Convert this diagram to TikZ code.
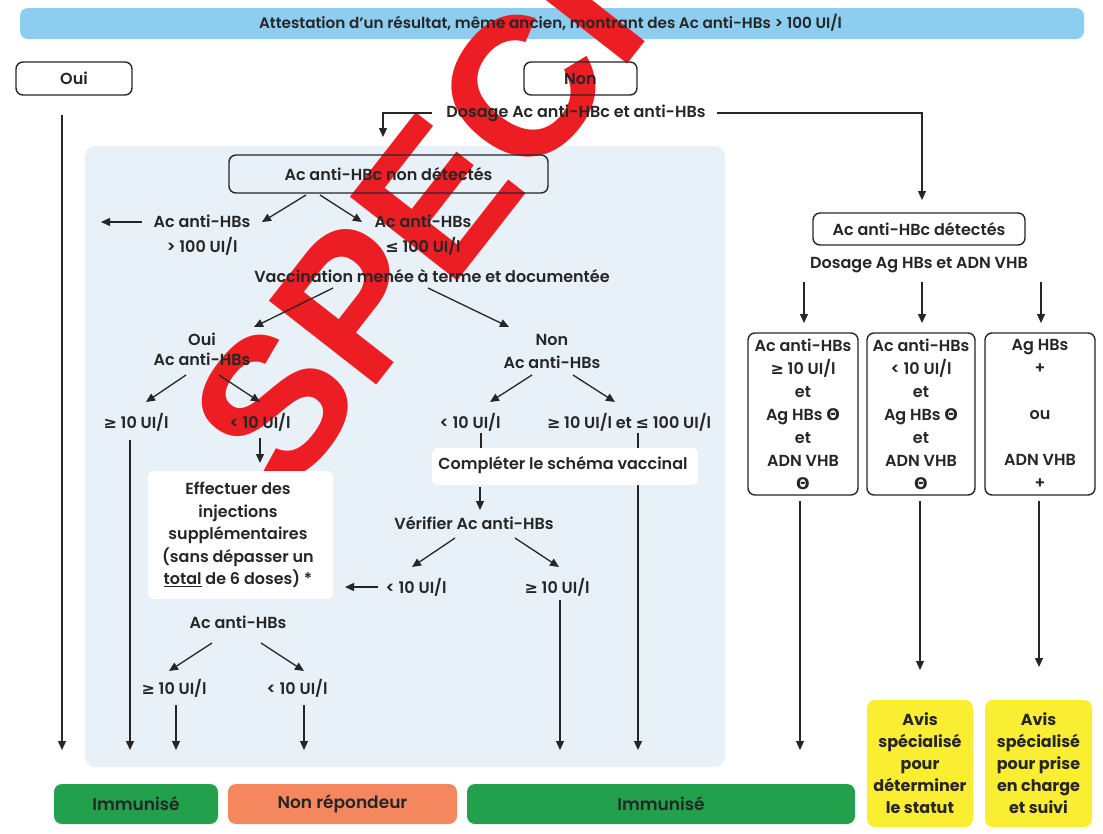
\documentclass[tikz,border=0pt]{standalone}
\usepackage{fontspec}
\setmainfont{Poppins}
\newfontfamily\bodyfont{Poppins}[UprightFont={* SemiBold}]
\newfontfamily\symfont{DejaVu Sans}
\newfontfamily\wmfont{Liberation Sans}
\usetikzlibrary{arrows.meta}
\pgfdeclarelayer{bg}
\pgfdeclarelayer{wm}
\pgfsetlayers{bg,wm,main}
\definecolor{ink}{HTML}{262626}
\definecolor{barblue}{HTML}{8CCDF0}
\definecolor{panelblue}{HTML}{E8F1F8}
\definecolor{okgreen}{HTML}{22A04B}
\definecolor{nrorange}{HTML}{F5875F}
\definecolor{avisyellow}{HTML}{FAEE32}
\definecolor{wmred}{HTML}{EC1E24}
\newcommand{\symGE}{{\symfont\bfseries ≥}}
\newcommand{\symLE}{{\symfont\bfseries ≤}}
\newcommand{\symTh}{{\symfont\bfseries Θ}}
\tikzset{
  txt/.style={font=\bodyfont\fontsize{16}{23}\selectfont, text=ink, inner sep=0pt, align=center},
  sp/.style={font=\bodyfont\fontsize{16}{#1}\selectfont},
  rbox/.style={draw=ink, line width=1.4pt, rounded corners=7pt},
  arr/.style={draw=ink, line width=1.3pt, -{Triangle[length=9pt,width=8pt]}},
  ln/.style={draw=ink, line width=1.3pt},
  whitebox/.style={fill=white, rounded corners=6pt},
  result/.style={rounded corners=8pt, minimum height=40pt, font=\bodyfont\fontsize{17}{20}\selectfont},
  avis/.style={fill=avisyellow, rounded corners=8pt, minimum height=127pt, font=\rmfamily\bfseries\fontsize{16}{22}\selectfont}
}
\begin{document}
\begin{tikzpicture}[x=1pt,y=-1pt, every node/.style={txt}]
\useasboundingbox (0,0) rectangle (1103,833);
\begin{pgfonlayer}{bg}
  \fill[white] (0,0) rectangle (1103,833);
  \node[fill=barblue, rounded corners=8pt, minimum width=1064pt, minimum height=31pt] (topbar) at (552,23.5) {};
  \node[fill=panelblue, rounded corners=10pt, minimum width=640pt, minimum height=621pt] (panel) at (405,456.5) {};
\end{pgfonlayer}
\begin{pgfonlayer}{wm}
  \node[font=\wmfont\bfseries\fontsize{198}{198}\selectfont, text=wmred, anchor=base west, rotate=52, inner sep=0pt] (wm) at (287,500) {SPECI};
\end{pgfonlayer}

% top
\node[font=\bodyfont\fontsize{15.2}{18}\selectfont] (toptxt) at (550.5,23) {Attestation d’un résultat, même ancien, montrant des Ac anti-HBs > 100 UI/l};
\node[rbox, minimum width=116pt, minimum height=33pt] (oui) at (74,78.5) {Oui};
\node[rbox, minimum width=113pt, minimum height=33pt] (non) at (580.5,78.5) {Non};
\node (dos1) at (576,113) {Dosage Ac anti-HBc et anti-HBs};

\coordinate (ouiS) at (62,115);
\coordinate (ouiE) at (62,750);
\draw[arr] (ouiS) -- (ouiE);

\coordinate (dosL) at (432,113);
\coordinate (dosLtip) at (383,137);
\draw[arr] (dosL) -| (dosLtip);
\coordinate (dosR) at (717,113);
\coordinate (dosRtip) at (922,200);
\draw[arr] (dosR) -| (dosRtip);

% left branch
\node[rbox, minimum width=319pt, minimum height=38pt] (nondet) at (388.5,174) {Ac anti-HBc non détectés};
\node[sp=25] (hbsHi) at (202,235) {Ac anti-HBs\\> 100 UI/l};
\node[sp=25] (hbsLo) at (423,235) {Ac anti-HBs\\\symLE{} 100 UI/l};
\coordinate (nd1s) at (306,195); \coordinate (nd1e) at (262,222);
\coordinate (nd2s) at (320,195); \coordinate (nd2e) at (362,222);
\draw[arr] (nd1s) -- (nd1e);
\draw[arr] (nd2s) -- (nd2e);
\coordinate (hiS) at (142,222); \coordinate (hiE) at (101,222);
\draw[arr] (hiS) -- (hiE);

\node (vacc) at (432,276) {Vaccination menée à terme et documentée};
\coordinate (v1s) at (333,288); \coordinate (v1e) at (254,327);
\coordinate (v2s) at (428,288); \coordinate (v2e) at (509,327);
\draw[arr] (v1s) -- (v1e);
\draw[arr] (v2s) -- (v2e);

\node[sp=20] (ouiB) at (202,349) {Oui\\Ac anti-HBs};
\node[sp=23] (nonB) at (552,351) {Non\\Ac anti-HBs};
\coordinate (o1s) at (186,375); \coordinate (o1e) at (146,402);
\coordinate (o2s) at (219,375); \coordinate (o2e) at (260,402);
\coordinate (n1s) at (532,375); \coordinate (n1e) at (490,402);
\coordinate (n2s) at (573,375); \coordinate (n2e) at (615,402);
\draw[arr] (o1s) -- (o1e);
\draw[arr] (o2s) -- (o2e);
\draw[arr] (n1s) -- (n1e);
\draw[arr] (n2s) -- (n2e);

\node (g10a) at (136,422) {\symGE{} 10 UI/l};
\node (l10a) at (260,422) {< 10 UI/l};
\node (l10b) at (470,422) {< 10 UI/l};
\node (g10b) at (629,422) {\symGE{} 10 UI/l et \symLE{} 100 UI/l};

\coordinate (g10aS) at (130,440); \coordinate (g10aE) at (130,750);
\draw[arr] (g10aS) -- (g10aE);
\coordinate (l10aS) at (260,438); \coordinate (l10aE) at (260,463);
\draw[arr] (l10aS) -- (l10aE);
\coordinate (l10bS) at (481,433); \coordinate (l10bE) at (481,452);
\draw[ln] (l10bS) -- (l10bE);
\coordinate (g10bS) at (638,433); \coordinate (g10bE) at (638,750);
\draw[arr] (g10bS) -- (g10bE);

\node[whitebox, minimum width=266pt, minimum height=37pt] (compl) at (565,466.5) {};
\node (complT) at (563,465) {Compléter le schéma vaccinal};
\coordinate (cS) at (480,487); \coordinate (cE) at (480,510);
\draw[arr] (cS) -- (cE);
\node (verif) at (474,523) {Vérifier Ac anti-HBs};
\coordinate (vf1s) at (455,538); \coordinate (vf1e) at (412,567);
\coordinate (vf2s) at (515,538); \coordinate (vf2e) at (559,567);
\draw[arr] (vf1s) -- (vf1e);
\draw[arr] (vf2s) -- (vf2e);
\node (l10c) at (416,587) {< 10 UI/l};
\coordinate (l10cS) at (378,587); \coordinate (l10cE) at (345,587);
\draw[arr] (l10cS) -- (l10cE);
\node (g10c) at (557,587) {\symGE{} 10 UI/l};
\coordinate (g10cS) at (560,600); \coordinate (g10cE) at (560,750);
\draw[arr] (g10cS) -- (g10cE);

\node[whitebox, minimum width=185pt, minimum height=128pt] (effect) at (240.5,535) {};
\node[sp=22.5] (effectT) at (238,535) {Effectuer des\\injections\\supplémentaires\\(sans dépasser un\\\underline{total} de 6 doses) *};
\node (acR) at (238,622) {Ac anti-HBs};
\coordinate (r1s) at (212,643); \coordinate (r1e) at (169,671);
\coordinate (r2s) at (261,643); \coordinate (r2e) at (304,671);
\draw[arr] (r1s) -- (r1e);
\draw[arr] (r2s) -- (r2e);
\node (g10d) at (174,688) {\symGE{} 10 UI/l};
\node (l10d) at (297,688) {< 10 UI/l};
\coordinate (g10dS) at (176,705); \coordinate (g10dE) at (176,750);
\coordinate (l10dS) at (304,705); \coordinate (l10dE) at (304,750);
\draw[arr] (g10dS) -- (g10dE);
\draw[arr] (l10dS) -- (l10dE);

% right branch
\node[rbox, minimum width=212pt, minimum height=32pt] (det) at (919,229) {Ac anti-HBc détectés};
\node (dos2) at (919,265) {Dosage Ag HBs et ADN VHB};
\coordinate (d1s) at (804,282); \coordinate (d1e) at (804,323);
\coordinate (d2s) at (922,282); \coordinate (d2e) at (922,323);
\coordinate (d3s) at (1041,282); \coordinate (d3e) at (1041,323);
\draw[arr] (d1s) -- (d1e);
\draw[arr] (d2s) -- (d2e);
\draw[arr] (d3s) -- (d3e);
\node[rbox, minimum width=110pt, minimum height=162pt] (b1) at (803,414) {Ac anti-HBs\\\symGE{} 10 UI/l\\et\\Ag HBs \symTh\\et\\ADN VHB\\\symTh};
\node[rbox, minimum width=108pt, minimum height=162pt] (b2) at (921,414) {Ac anti-HBs\\< 10 UI/l\\et\\Ag HBs \symTh\\et\\ADN VHB\\\symTh};
\node[rbox, minimum width=110pt, minimum height=162pt] (b3) at (1040,414) {Ag HBs\\+\\[23pt]ou\\[23pt]ADN VHB\\+};
\coordinate (b1E) at (800,750);
\coordinate (b2E) at (920,670);
\coordinate (b3E) at (1039,667);
\draw[arr] (b1.south -| b1E) ++(0,5) -- (b1E);
\draw[arr] (b2.south -| b2E) ++(0,5) -- (b2E);
\draw[arr] (b3.south -| b3E) ++(0,5) -- (b3E);

\node[avis, minimum width=106pt] (avis1) at (920,763.5) {Avis\\spécialisé\\pour\\déterminer\\le statut};
\node[avis, minimum width=107pt] (avis2) at (1038.5,763.5) {Avis\\spécialisé\\pour prise\\en charge\\et suivi};

% results
\node[result, fill=okgreen, minimum width=164pt] (imm1) at (136,804) {Immunisé};
\node[result, fill=nrorange, minimum width=229pt] (nr) at (342.5,804) {Non répondeur};
\node[result, fill=okgreen, minimum width=388pt] (imm2) at (661,804) {Immunisé};
\end{tikzpicture}
\end{document}
